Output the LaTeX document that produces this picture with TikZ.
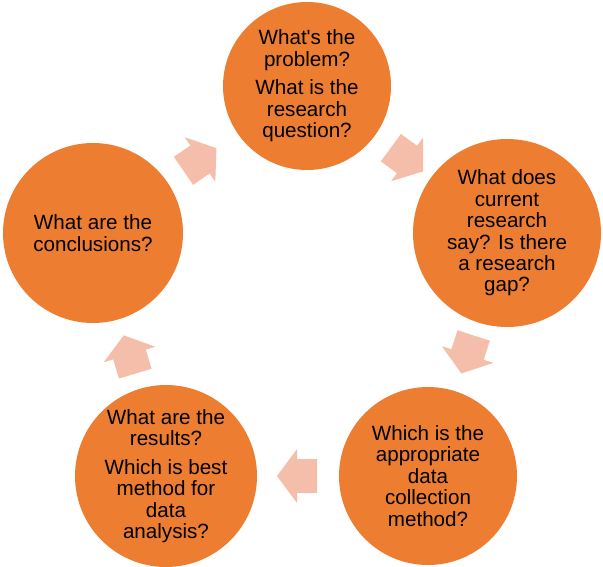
\documentclass[tikz,border=0pt]{standalone}
\usepackage{fontspec}
\setmainfont{Liberation Sans}
\usepackage{tikz}
\usetikzlibrary{positioning,calc}
\definecolor{stageOrange}{RGB}{237,125,49}
\definecolor{arrowPink}{RGB}{244,190,170}

\tikzset{
  stage/.style={circle,fill=stageOrange,inner sep=0pt,align=center,
    font=\fontsize{17.6}{18.3}\selectfont},
  cyclearrow/.pic={
    \fill[arrowPink] (-20,-17)--(0,-17)--(0,-27)--(20,0)--(0,27)--(0,17)--(-20,17)--cycle;
  }
}

\begin{document}
\begin{tikzpicture}[x=0.3mm,y=-0.3mm]
        \useasboundingbox (0,0) rectangle (603,566);
        % Stage 1: the problem
        \node[stage,minimum size=168*0.3mm] (problem) at (307,86)
          {What\textquotesingle s the\\problem?\\[6pt]What is the\\research\\question?};
        % Stage 2: literature
        \node[stage,minimum size=188*0.3mm] (literature) at (507,233)
          {What does\\current\\research\\say? Is there\\a research\\gap?};
        % Stage 3: data collection
        \node[stage,minimum size=178*0.3mm] (collection) at (428,476)
          {Which is the\\appropriate\\data\\collection\\method?};
        % Stage 4: results
        \node[stage,minimum size=182*0.3mm] (results) at (166,476)
          {What are the\\results?\\[6pt]Which is best\\method for\\data\\analysis?};
        % Stage 5: conclusions
        \node[stage,minimum size=180*0.3mm] (conclusions) at (93,233)
          {What are the\\conclusions?};
        % Arrows round the cycle
        \foreach \from/\to in {conclusions/problem,problem/literature,
            literature/collection,collection/results,results/conclusions}
          \path (\from.center) -- (\to.center)
            pic[pos=0.5,sloped,allow upside down] {cyclearrow};
      \end{tikzpicture}
\end{document}
